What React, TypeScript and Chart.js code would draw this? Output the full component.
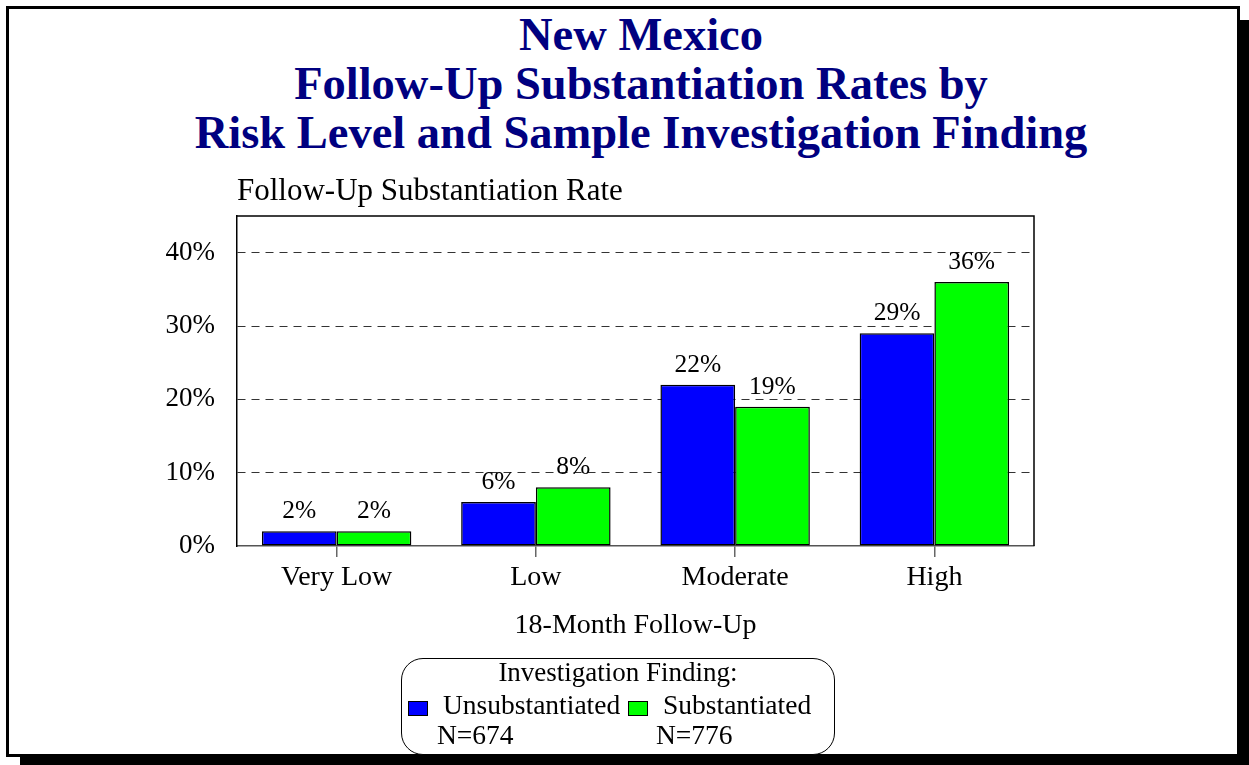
import React, { useEffect, useRef } from 'react';
import { Chart, registerables } from 'chart.js';

Chart.register(...registerables);

const FONT = '"Liberation Serif", "Times New Roman", serif';

const titleLines = [
  'New Mexico',
  'Follow-Up Substantiation Rates by',
  'Risk Level and Sample Investigation Finding',
];
const yAxisTitle = 'Follow-Up Substantiation Rate';
const xAxisTitle = '18-Month Follow-Up';
const categories = ['Very Low', 'Low', 'Moderate', 'High'];
const unsubstantiated = [2, 6, 22, 29];
const substantiated = [2, 8, 19, 36];
const yTickValues = [0, 10, 20, 30, 40];
const seriesLabels = ['Unsubstantiated', 'Substantiated'];
const seriesN = ['N=674', 'N=776'];
const seriesColors = ['#0000FF', '#00FF00'];
const legendTitle = 'Investigation Finding:';

const boxAndLabels = {
  id: 'boxAndLabels',
  afterDatasetsDraw(chart: any) {
    const { ctx, chartArea } = chart;
    ctx.save();
    ctx.strokeStyle = '#000';
    ctx.lineWidth = 1.5;
    ctx.setLineDash([]);
    ctx.beginPath();
    ctx.moveTo(chartArea.left, chartArea.top);
    ctx.lineTo(chartArea.right, chartArea.top);
    ctx.lineTo(chartArea.right, chartArea.bottom);
    ctx.stroke();
    ctx.fillStyle = '#000';
    ctx.font = `25.5px ${FONT}`;
    ctx.textAlign = 'center';
    ctx.textBaseline = 'alphabetic';
    chart.data.datasets.forEach((ds: any, i: number) => {
      const meta = chart.getDatasetMeta(i);
      meta.data.forEach((bar: any, j: number) => {
        ctx.fillText(`${ds.data[j]}%`, bar.x, bar.y - 13);
      });
    });
    ctx.font = `31px ${FONT}`;
    ctx.textAlign = 'left';
    ctx.fillText(yAxisTitle, chartArea.left, chartArea.top - 16);
    ctx.restore();
  },
};

export default function App() {
  const ref = useRef<HTMLCanvasElement>(null);
  useEffect(() => {
    const chart = new Chart(ref.current!, {
      type: 'bar',
      data: {
        labels: categories,
        datasets: [
          {
            label: seriesLabels[0],
            data: unsubstantiated,
            backgroundColor: seriesColors[0],
            borderColor: '#000',
            borderWidth: 1.5,
            borderSkipped: false,
            categoryPercentage: 0.75,
            barPercentage: 1.0,
          },
          {
            label: seriesLabels[1],
            data: substantiated,
            backgroundColor: seriesColors[1],
            borderColor: '#000',
            borderWidth: 1.5,
            borderSkipped: false,
            categoryPercentage: 0.75,
            barPercentage: 1.0,
          },
        ],
      },
      options: {
        responsive: false,
        animation: false,
        layout: { padding: { left: 100, right: 215, top: 216, bottom: 109 } },
        plugins: {
          legend: { display: false },
          title: { display: false },
          tooltip: { enabled: false },
        },
        scales: {
          x: {
            afterFit(scale: any) {
              scale.height = 110;
            },
            grid: {
              display: true,
              drawOnChartArea: false,
              drawTicks: true,
              tickLength: 11,
              offset: false,
              color: '#666',
              lineWidth: 1.5,
            },
            border: { display: true, color: '#555', width: 1.5 },
            ticks: {
              color: '#000',
              font: { family: FONT, size: 28 },
              padding: 4,
              maxRotation: 0,
            },
            title: {
              display: true,
              text: xAxisTitle,
              color: '#000',
              font: { family: FONT, size: 28 },
              padding: { top: 0, bottom: 14 },
            },
          },
          y: {
            min: 0,
            max: 45,
            afterFit(scale: any) {
              scale.width = 137;
            },
            afterBuildTicks(scale: any) {
              scale.ticks = yTickValues.map((v) => ({ value: v }));
            },
            grid: {
              drawTicks: false,
              color: (c: any) => (c.tick && c.tick.value === 0 ? 'rgba(0,0,0,0)' : '#333'),
              lineWidth: 1,
            },
            border: { display: true, color: '#000', width: 1.5, dash: [8, 6] },
            ticks: {
              padding: 22,
              color: '#000',
              font: { family: FONT, size: 27 },
              callback: (v: any) => `${v}%`,
            },
          },
        },
      },
      plugins: [boxAndLabels],
    } as any);
    return () => chart.destroy();
  }, []);

  return (
    <div
      style={{
        position: 'fixed',
        left: 0,
        top: 0,
        width: 1249,
        height: 765,
        background: '#fff',
        overflow: 'hidden',
        fontFamily: FONT,
      }}
    >
      <div style={{ position: 'absolute', left: 20, top: 20, right: 0, bottom: 0, background: '#000' }} />
      <div
        style={{
          position: 'absolute',
          left: 6,
          top: 6,
          width: 1234,
          height: 751,
          border: '3px solid #000',
          boxSizing: 'border-box',
          background: '#fff',
        }}
      />
      <div
        style={{
          position: 'absolute',
          left: 141,
          top: 10,
          width: 1000,
          textAlign: 'center',
          fontSize: 46.5,
          fontWeight: 'bold',
          lineHeight: '49px',
          color: '#000080',
        }}
      >
        {titleLines.map((t) => (
          <div key={t}>{t}</div>
        ))}
      </div>
      <canvas ref={ref} width={1249} height={765} style={{ position: 'absolute', left: 0, top: 0 }} />
      <div
        style={{
          position: 'absolute',
          left: 401,
          top: 658,
          width: 434,
          height: 97,
          border: '1.5px solid #000',
          borderRadius: 22,
          boxSizing: 'border-box',
          background: '#fff',
        }}
      />
      <div style={{ position: 'absolute', left: 401, top: 656, width: 434, textAlign: 'center', fontSize: 27, lineHeight: '32px' }}>
        {legendTitle}
      </div>
      {seriesLabels.map((lab, i) => {
        const sx = [408, 628][i];
        const tx = [443, 663][i];
        const nx = [437, 656][i];
        return (
          <React.Fragment key={lab}>
            <div
              style={{
                position: 'absolute',
                left: sx,
                top: 701,
                width: 20,
                height: 15,
                background: seriesColors[i],
                border: '1.5px solid #000',
                boxSizing: 'border-box',
              }}
            />
            <div style={{ position: 'absolute', left: tx, top: 689, fontSize: 27.5, lineHeight: '32px', whiteSpace: 'nowrap' }}>{lab}</div>
            <div style={{ position: 'absolute', left: nx, top: 719, fontSize: 27.5, lineHeight: '32px', whiteSpace: 'nowrap' }}>{seriesN[i]}</div>
          </React.Fragment>
        );
      })}
    </div>
  );
}
